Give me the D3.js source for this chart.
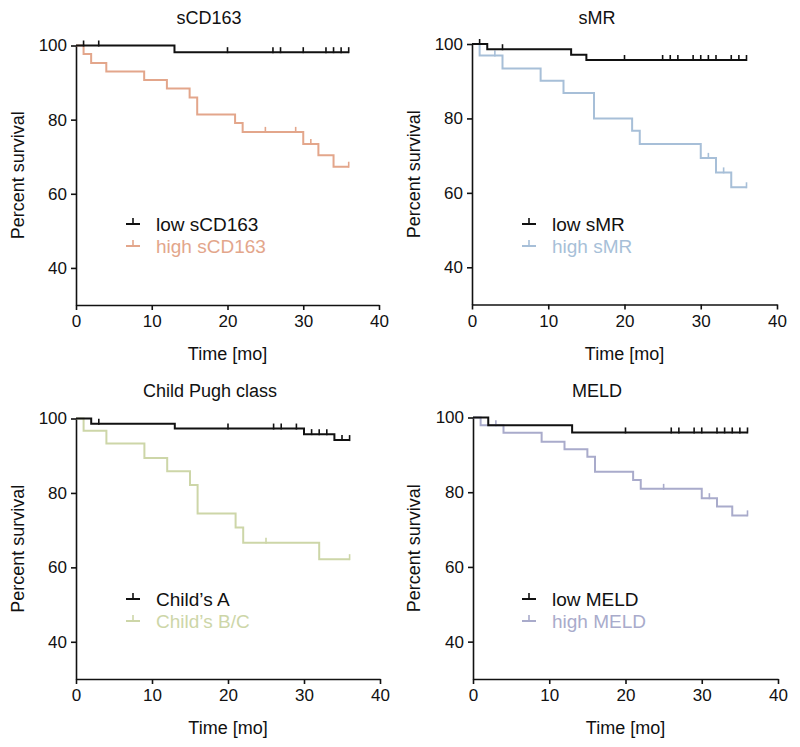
<!DOCTYPE html>
<html><head><meta charset="utf-8">
<script src="https://cdn.jsdelivr.net/npm/d3@7/dist/d3.min.js"></script>
<style>
body{margin:0;background:#fff;}
text{font-family:"Liberation Sans",Arial,Helvetica,sans-serif;}
</style></head>
<body><svg id="c" width="800" height="747"></svg>
<script>
// ---- data (time in months, percent survival after each step) ----
const xTicks = [0, 10, 20, 30, 40];
const yTicks = [40, 60, 80, 100];
const titles = ["sCD163", "sMR", "Child Pugh class", "MELD"];

const lowCD163Times = [0, 13];
const lowCD163Surv  = [100, 98.2];
const lowCD163Cens  = [1, 3, 20, 26, 27, 30, 33, 34, 35, 36];
const highCD163Times = [0, 1, 2, 4, 9, 12, 15, 16, 21, 22, 30, 32, 34];
const highCD163Surv  = [100, 97.7, 95.3, 93.0, 90.7, 88.4, 86.0, 81.4, 79.1, 76.7, 73.4, 70.4, 67.3];
const highCD163Cens  = [25, 29, 31, 36];

const lowMRTimes = [0, 2, 13, 15];
const lowMRSurv  = [100, 98.6, 97.1, 95.7];
const lowMRCens  = [1, 4, 20, 25, 26, 27, 29, 30, 31, 32, 34, 35, 36];
const highMRTimes = [0, 1, 4, 9, 12, 16, 21, 22, 30, 32, 34];
const highMRSurv  = [100, 96.9, 93.4, 90.1, 86.8, 80.0, 76.7, 73.1, 69.4, 65.5, 61.5];
const highMRCens  = [3, 31, 33, 36];

const childATimes = [0, 2, 13, 30, 34];
const childASurv  = [100, 98.6, 97.3, 95.8, 94.2];
const childACens  = [3, 20, 26, 27, 29, 31, 32, 33, 35, 36];
const childBCTimes = [0, 1, 4, 9, 12, 15, 16, 21, 22, 32];
const childBCSurv  = [100, 96.7, 93.3, 89.4, 85.8, 82.1, 74.5, 70.7, 66.6, 62.2];
const childBCCens  = [25, 36];

const lowMELDTimes = [0, 2, 13];
const lowMELDSurv  = [100, 97.9, 96.0];
const lowMELDCens  = [20, 26, 27, 29, 30, 32, 33, 34, 35, 36];
const highMELDTimes = [0, 1, 4, 9, 12, 15, 16, 21, 22, 30, 32, 34];
const highMELDSurv  = [100, 97.9, 95.9, 93.5, 91.5, 89.5, 85.5, 83.3, 80.9, 78.4, 76.2, 73.8];
const highMELDCens  = [3, 25, 31, 36];

const legendLabels = [["low sCD163","high sCD163"],["low sMR","high sMR"],["Child\u2019s A","Child\u2019s B/C"],["low MELD","high MELD"]];
const seriesColors = [["#111111","#e3a68b"],["#111111","#a7bfd8"],["#111111","#cdd6a8"],["#111111","#a9abcb"]];
const endTime = 36;

const panelsData = [
  [[lowCD163Times,lowCD163Surv,lowCD163Cens],[highCD163Times,highCD163Surv,highCD163Cens]],
  [[lowMRTimes,lowMRSurv,lowMRCens],[highMRTimes,highMRSurv,highMRCens]],
  [[childATimes,childASurv,childACens],[childBCTimes,childBCSurv,childBCCens]],
  [[lowMELDTimes,lowMELDSurv,lowMELDCens],[highMELDTimes,highMELDSurv,highMELDCens]]
];

// ---- layout ----
const svg = d3.select("#c");
const geo = [
  {x0:76, x1:379, yTop:45.5, yBot:305, ylab:18, tx:209, ty:24, leg:[126,224]},
  {x0:472, x1:777, yTop:44, yBot:304.5, ylab:414, tx:597, ty:24, leg:[522,224]},
  {x0:76, x1:380, yTop:418.5, yBot:679, ylab:18, tx:210, ty:397, leg:[126,599]},
  {x0:473, x1:778, yTop:417.5, yBot:679, ylab:414, tx:597, ty:397, leg:[522,599]}
];

panelsData.forEach((series, i) => {
  const g = geo[i];
  const x = d3.scaleLinear().domain([0, 40]).range([g.x0, g.x1]);
  const y = d3.scaleLinear().domain([30, 100]).range([g.yBot, g.yTop]);
  const p = svg.append("g");

  const xa = p.append("g").attr("transform", `translate(0,${g.yBot})`)
    .call(d3.axisBottom(x).tickValues(xTicks).tickSize(5).tickSizeOuter(0).tickPadding(5));
  const ya = p.append("g").attr("transform", `translate(${g.x0},0)`)
    .call(d3.axisLeft(y).tickValues(yTicks).tickSize(5).tickSizeOuter(0).tickPadding(4));
  [xa, ya].forEach(a => {
    a.selectAll("path").attr("stroke", "#111").attr("stroke-width", 1.6);
    a.selectAll("line").attr("stroke", "#111").attr("stroke-width", 1.6);
    a.selectAll("text").attr("font-size", 17).attr("fill", "#111")
      .attr("font-family", "'Liberation Sans',Arial,sans-serif");
  });

  p.append("text").attr("x", (g.x0 + g.x1) / 2).attr("y", g.yBot + 55)
    .attr("text-anchor", "middle").attr("font-size", 18).attr("fill", "#111").text("Time [mo]");
  p.append("text").attr("transform", `translate(${g.ylab},${(g.yTop + g.yBot) / 2}) rotate(-90)`)
    .attr("text-anchor", "middle").attr("dy", "0.35em").attr("font-size", 18).attr("fill", "#111").text("Percent survival");
  p.append("text").attr("x", g.tx).attr("y", g.ty).attr("text-anchor", "middle")
    .attr("font-size", 18).attr("fill", "#111").text(titles[i]);

  // draw high (colored) first, then low (black) on top
  [1, 0].forEach(k => {
    const [t, s, c] = series[k];
    const col = seriesColors[i][k];
    const pts = t.map((d, j) => [d, s[j]]);
    pts.push([endTime, s[s.length - 1]]);
    p.append("path").datum(pts)
      .attr("d", d3.line().x(d => x(d[0])).y(d => y(d[1])).curve(d3.curveStepAfter))
      .attr("fill", "none").attr("stroke", col).attr("stroke-width", 2);
    const survAt = tm => { let v = s[0]; t.forEach((d, j) => { if (d <= tm) v = s[j]; }); return v; };
    p.selectAll(null).data(c).join("line")
      .attr("x1", d => x(d)).attr("x2", d => x(d))
      .attr("y1", d => y(survAt(d)) + 1).attr("y2", d => y(survAt(d)) - 5)
      .attr("stroke", col).attr("stroke-width", 1.6);
  });

  // legend
  [0, 1].forEach(k => {
    const col = seriesColors[i][k];
    const lx = g.leg[0], ly = g.leg[1] + k * 22;
    p.append("line").attr("x1", lx).attr("x2", lx + 14).attr("y1", ly).attr("y2", ly)
      .attr("stroke", col).attr("stroke-width", 2);
    p.append("line").attr("x1", lx + 7).attr("x2", lx + 7).attr("y1", ly).attr("y2", ly - 6)
      .attr("stroke", col).attr("stroke-width", 1.6);
    p.append("text").attr("x", lx + 30).attr("y", ly).attr("dy", "0.35em")
      .attr("font-size", 19).attr("fill", col).text(legendLabels[i][k]);
  });
});
</script></body></html>
